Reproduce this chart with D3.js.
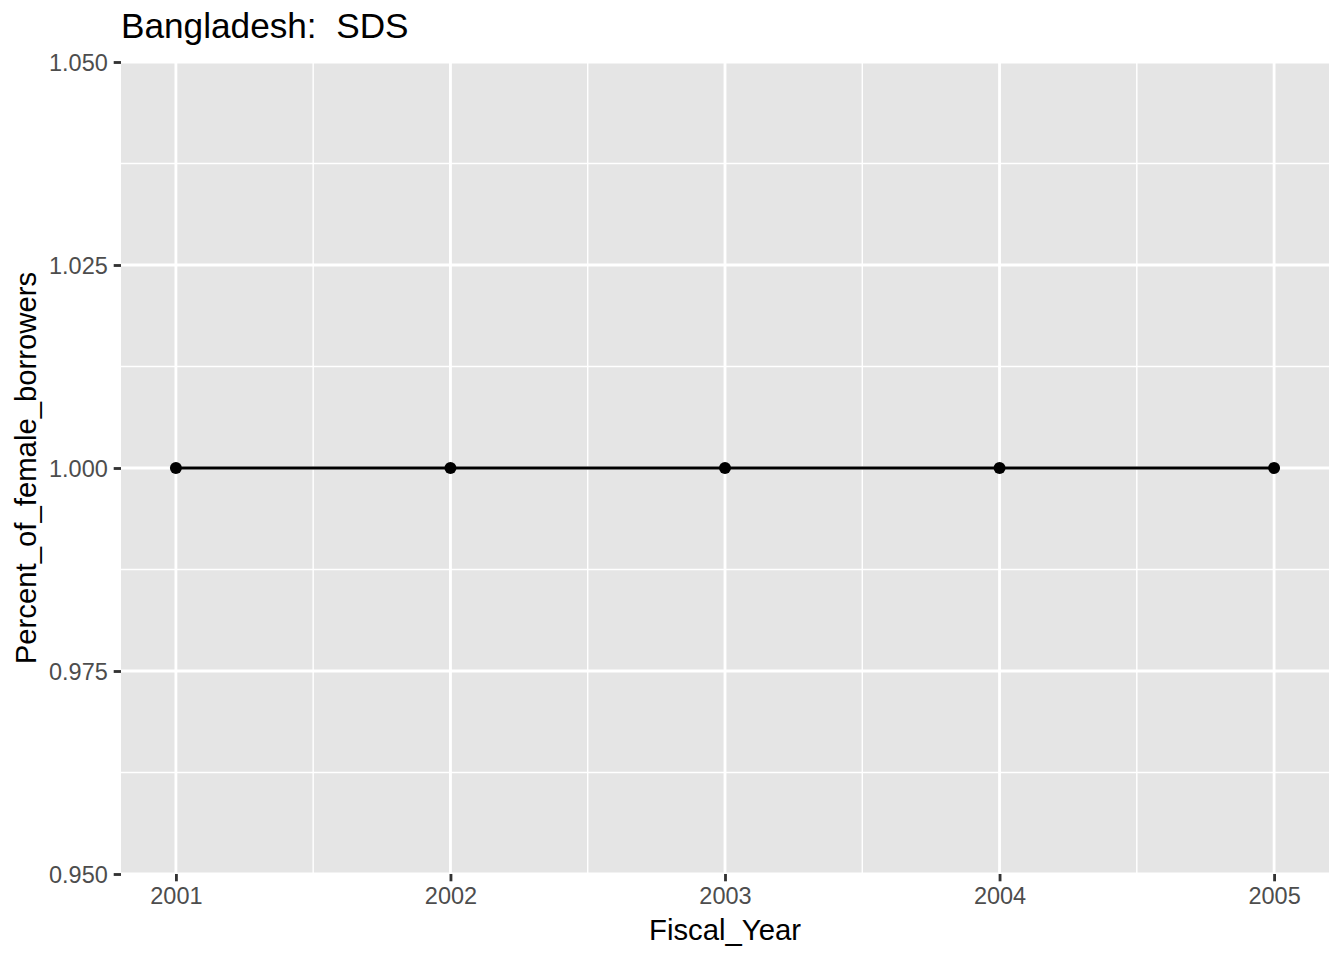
<!DOCTYPE html>
<html>
<head>
<meta charset="utf-8">
<script src="https://cdn.jsdelivr.net/npm/d3@7"></script>
<style>
  html, body { margin: 0; padding: 0; background: #fff; }
  svg { display: block; }
  text { font-family: "Liberation Sans", Arial, Helvetica, sans-serif; white-space: pre; }
</style>
</head>
<body>
<script>
// Data
const years = [2001, 2002, 2003, 2004, 2005];
const values = [1.000, 1.000, 1.000, 1.000, 1.000];
const yTicks = [0.950, 0.975, 1.000, 1.025, 1.050];
const yMinor = [0.9625, 0.9875, 1.0125, 1.0375];
const xMinor = [2001.5, 2002.5, 2003.5, 2004.5];
const titleText = "Bangladesh:  SDS";
const xTitle = "Fiscal_Year";
const yTitle = "Percent_of_female_borrowers";

const W = 1344, H = 960;
const panel = { left: 121, right: 1329, top: 62, bottom: 874 };

const svg = d3.select("body").append("svg").attr("width", W).attr("height", H);

const x = d3.scaleLinear().domain([2001 - 0.2, 2005 + 0.2]).range([panel.left, panel.right]);
const y = d3.scaleLinear().domain([0.95, 1.05]).range([panel.bottom, panel.top]);

// Panel background
svg.append("rect")
  .attr("x", panel.left).attr("y", panel.top)
  .attr("width", panel.right - panel.left).attr("height", panel.bottom - panel.top)
  .attr("fill", "#E5E5E5");

const grid = svg.append("g");
// minor grid
grid.selectAll("line.ymin").data(yMinor).enter().append("line")
  .attr("x1", panel.left).attr("x2", panel.right)
  .attr("y1", d => y(d)).attr("y2", d => y(d))
  .attr("stroke", "#fff").attr("stroke-width", 1.42);
grid.selectAll("line.xmin").data(xMinor).enter().append("line")
  .attr("y1", panel.top).attr("y2", panel.bottom)
  .attr("x1", d => x(d)).attr("x2", d => x(d))
  .attr("stroke", "#fff").attr("stroke-width", 1.42);
// major grid
grid.selectAll("line.ymaj").data(yTicks).enter().append("line")
  .attr("x1", panel.left).attr("x2", panel.right)
  .attr("y1", d => y(d)).attr("y2", d => y(d))
  .attr("stroke", "#fff").attr("stroke-width", 2.84);
grid.selectAll("line.xmaj").data(years).enter().append("line")
  .attr("y1", panel.top).attr("y2", panel.bottom)
  .attr("x1", d => x(d)).attr("x2", d => x(d))
  .attr("stroke", "#fff").attr("stroke-width", 2.84);

// Line and points
const line = d3.line().x((d, i) => x(years[i])).y(d => y(d));
svg.append("path").datum(values)
  .attr("d", line).attr("fill", "none")
  .attr("stroke", "#000").attr("stroke-width", 2.84);
svg.selectAll("circle.pt").data(values).enter().append("circle")
  .attr("cx", (d, i) => x(years[i])).attr("cy", d => y(d))
  .attr("r", 6).attr("fill", "#000");

// Axes
const fmt = d3.format(".3f");
const yAxis = svg.append("g")
  .attr("transform", `translate(${panel.left},0)`)
  .call(d3.axisLeft(y).tickValues(yTicks).tickFormat(fmt).tickSize(7.3).tickPadding(5.9));
const xAxis = svg.append("g")
  .attr("transform", `translate(0,${panel.bottom})`)
  .call(d3.axisBottom(x).tickValues(years).tickFormat(d3.format("d")).tickSize(7.3).tickPadding(5.9));
[yAxis, xAxis].forEach(a => {
  a.select(".domain").remove();
  a.selectAll(".tick line").attr("stroke", "#333333").attr("stroke-width", 2.84);
  a.selectAll(".tick text")
    .attr("fill", "#4D4D4D")
    .style("font-size", "23.5px")
    .style("font-family", "'Liberation Sans', Arial, sans-serif");
});
yAxis.selectAll(".tick text").attr("dy", "0.36em");
xAxis.selectAll(".tick text").attr("dy", "0.71em");

// Titles
svg.append("text")
  .attr("x", panel.left).attr("y", 38)
  .attr("fill", "#000").style("font-size", "35.2px")
  .text(titleText);
svg.append("text")
  .attr("x", (panel.left + panel.right) / 2).attr("y", 940)
  .attr("text-anchor", "middle").attr("fill", "#000")
  .style("font-size", "29.3px")
  .text(xTitle);
svg.append("text")
  .attr("transform", `translate(36,${(panel.top + panel.bottom) / 2}) rotate(-90)`)
  .attr("text-anchor", "middle").attr("fill", "#000")
  .style("font-size", "29.3px")
  .text(yTitle);
</script>
</body>
</html>
